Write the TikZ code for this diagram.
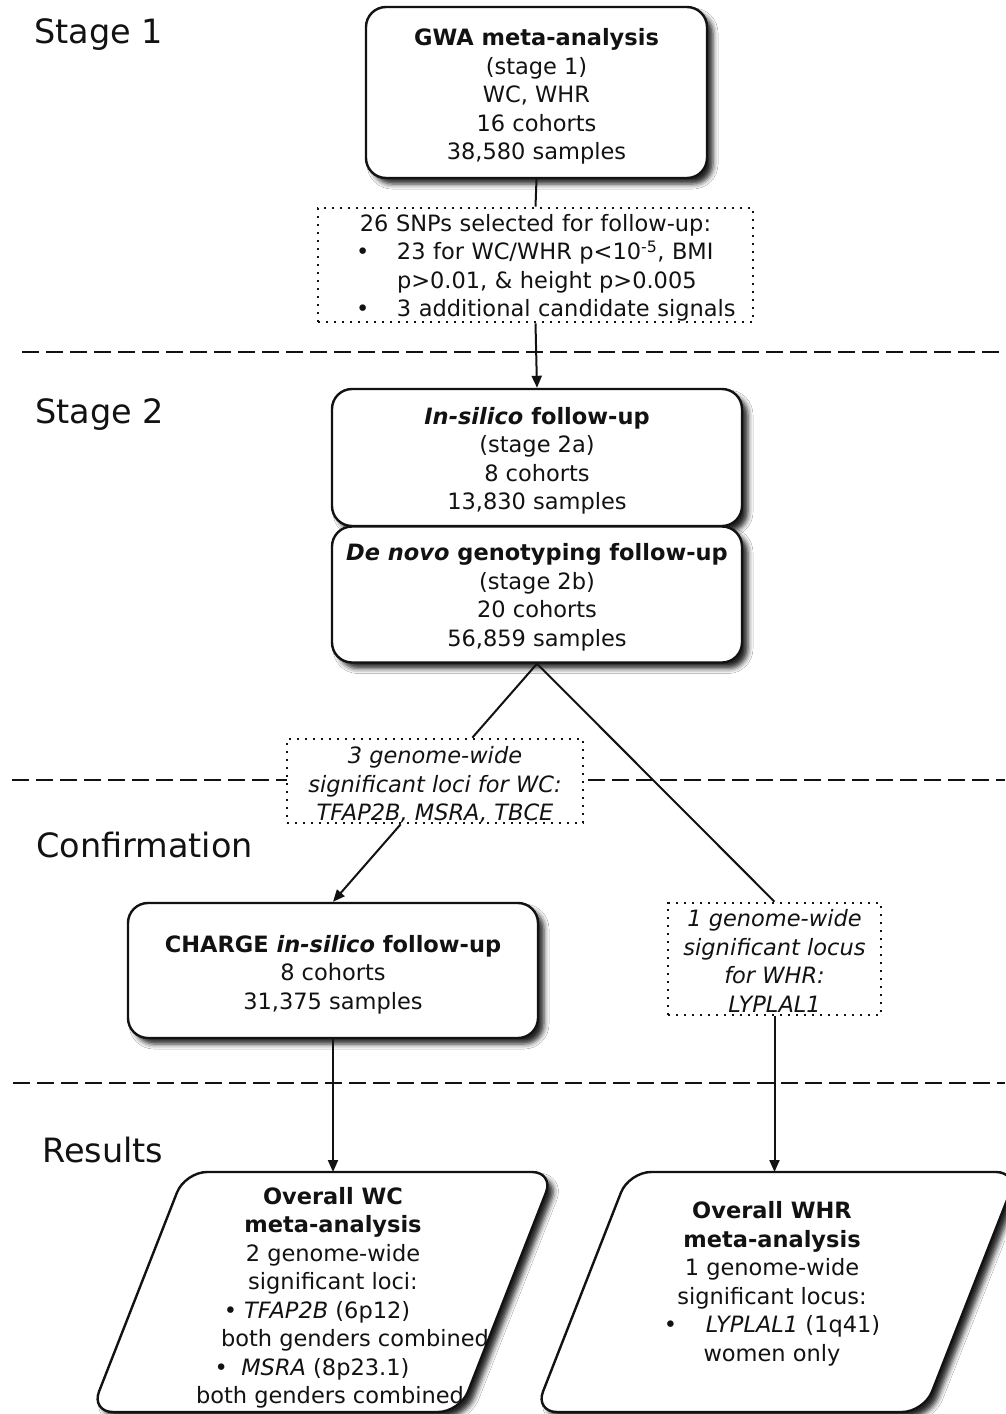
\documentclass[tikz,border=0pt]{standalone}
\usepackage{fontspec}
\setmainfont{DejaVu Sans}
\usetikzlibrary{arrows.meta,calc,shadows.blur}
\definecolor{ink}{gray}{0.07}
\newcommand{\shln}[2]{\makebox[0pt]{\hspace*{#1}#2}}
\newcommand{\bulbox}[1]{\makebox[#1][l]{•}}
\begin{document}
\begin{tikzpicture}[x=1pt,y=-1pt,
  every node/.style={text=ink},
  txt/.style={font=\fontsize{22.5}{28.5}\selectfont, align=center, inner sep=0pt},
  itxt/.style={font=\fontsize{22.5}{28.5}\selectfont\itshape, align=center, inner sep=0pt},
  stagelbl/.style={font=\fontsize{33.5}{40}\selectfont, anchor=base west, inner sep=0pt},
  shadowed/.style={blur shadow={shadow xshift=6pt, shadow yshift=-6pt, shadow blur radius=5pt, shadow opacity=85}},
  mainbox/.style={draw=ink, line width=2.4pt, fill=white, rounded corners=20pt, shadowed, inner sep=0pt},
  dotbox/.style={draw=ink, fill=white, line width=2.6pt, dash pattern=on 2.4pt off 5.6pt, inner sep=0pt},
  sep/.style={draw=ink, line width=2.4pt, dash pattern=on 17pt off 7pt},
  conn/.style={draw=ink, line width=2pt},
  arr/.style={conn, -{Triangle[length=12pt,width=10pt]}},
  para/.style={draw=ink, line width=2.4pt, fill=white, rounded corners=22pt, shadowed},
]
\fill[white] (0,0) rectangle (1005,1414);
\useasboundingbox (0,0) rectangle (1005,1414);

% separators
\draw[sep] (22,352) -- (1005,352);
\draw[sep] (12,780) -- (1005,780);
\draw[sep] (13,1083) -- (1005,1083);

% stage labels
\node[stagelbl] (st1) at (34,43) {Stage 1};
\node[stagelbl] (st2) at (35,423) {Stage 2};
\node[stagelbl] (st3) at (36,857) {Confirmation};
\node[stagelbl] (st4) at (42,1162) {Results};

% stage 1
\node[mainbox, minimum width=341pt, minimum height=171pt] (gwa) at (536.5,92.5) {};
\node[txt] (gwatxt) at (536.5,96.5)
  {\textbf{GWA meta-analysis}\\(stage 1)\\WC, WHR\\16 cohorts\\38,580 samples};

\node[dotbox, minimum width=435pt, minimum height=114pt] (snps) at (535.5,265) {};
\node[txt, align=left, text width=435pt] (snpstxt) at (535.5,268)
  {\makebox[435pt]{26 SNPs selected for follow-up:}\\
   \hspace*{38pt}\bulbox{41pt}23 for WC/WHR p<10\textsuperscript{-5}, BMI\\
   \hspace*{79pt}p>0.01, \& height p>0.005\\
   \hspace*{38pt}\bulbox{41pt}3 additional candidate signals};

% stage 2
\node[mainbox, minimum width=410pt, minimum height=137pt] (s2a) at (537,457.5) {};
\node[txt] (s2atxt) at (537,461)
  {\textbf{\textit{In-silico} follow-up}\\(stage 2a)\\8 cohorts\\13,830 samples};
\node[mainbox, minimum width=410pt, minimum height=136pt] (s2b) at (537,594.5) {};
\node[txt] (s2btxt) at (537,597.5)
  {\textbf{\textit{De novo} genotyping follow-up}\\(stage 2b)\\20 cohorts\\56,859 samples};

% confirmation
\node[dotbox, minimum width=296pt, minimum height=84pt] (loci3) at (435,781) {};
\node[itxt] (loci3txt) at (435,785)
  {3 genome-wide\\significant loci for WC:\\TFAP2B, MSRA, TBCE};
\node[mainbox, minimum width=410pt, minimum height=135pt] (charge) at (333,970.5) {};
\node[txt] (chargetxt) at (333,974.5)
  {\textbf{CHARGE \textit{in-silico} follow-up}\\8 cohorts\\31,375 samples};
\node[dotbox, minimum width=213pt, minimum height=112pt] (locus1) at (774.5,959) {};
\node[itxt] (locus1txt) at (774.5,961)
  {1 genome-wide\\significant locus\\for WHR:\\LYPLAL1};

% results
\path[para] (185,1172) -- (554,1172) -- (460,1412) -- (91,1412) -- cycle;
\path[para] (629,1172) -- (1018,1172) -- (924,1412) -- (535,1412) -- cycle;
\coordinate (wcTop) at (333,1172);
\coordinate (whrTop) at (774.5,1172);

\node[txt] (wcres) at (333,1298)
  {\textbf{Overall WC}\\\textbf{meta-analysis}\\2 genome-wide\\significant loci:\\
   \shln{-32pt}{• \textit{TFAP2B} (6p12)}\\
   \shln{44pt}{both genders combined}\\
   \shln{-42pt}{•\hspace{0.6em}\textit{MSRA} (8p23.1)}\\
   \shln{-6pt}{both genders combined}};
\node[txt] (whrres) at (772,1284)
  {\textbf{Overall WHR}\\\textbf{meta-analysis}\\1 genome-wide\\significant locus:\\
   \bulbox{42pt}\textit{LYPLAL1} (1q41)\\women only};

% connectors
\draw[conn] (gwa.south) -- (snps.north);
\draw[arr] (snps.south) -- (s2a.north);
\draw[conn] (s2b.south) -- ($(loci3.north west)!0.625!(loci3.north east)$);
\draw[conn] (s2b.south) -- (locus1.north);
\draw[arr] ($(loci3.south west)!0.385!(loci3.south east)$) -- (charge.north);
\draw[arr] (charge.south) -- (wcTop);
\draw[arr] (locus1.south) -- (whrTop);
\end{tikzpicture}
\end{document}
